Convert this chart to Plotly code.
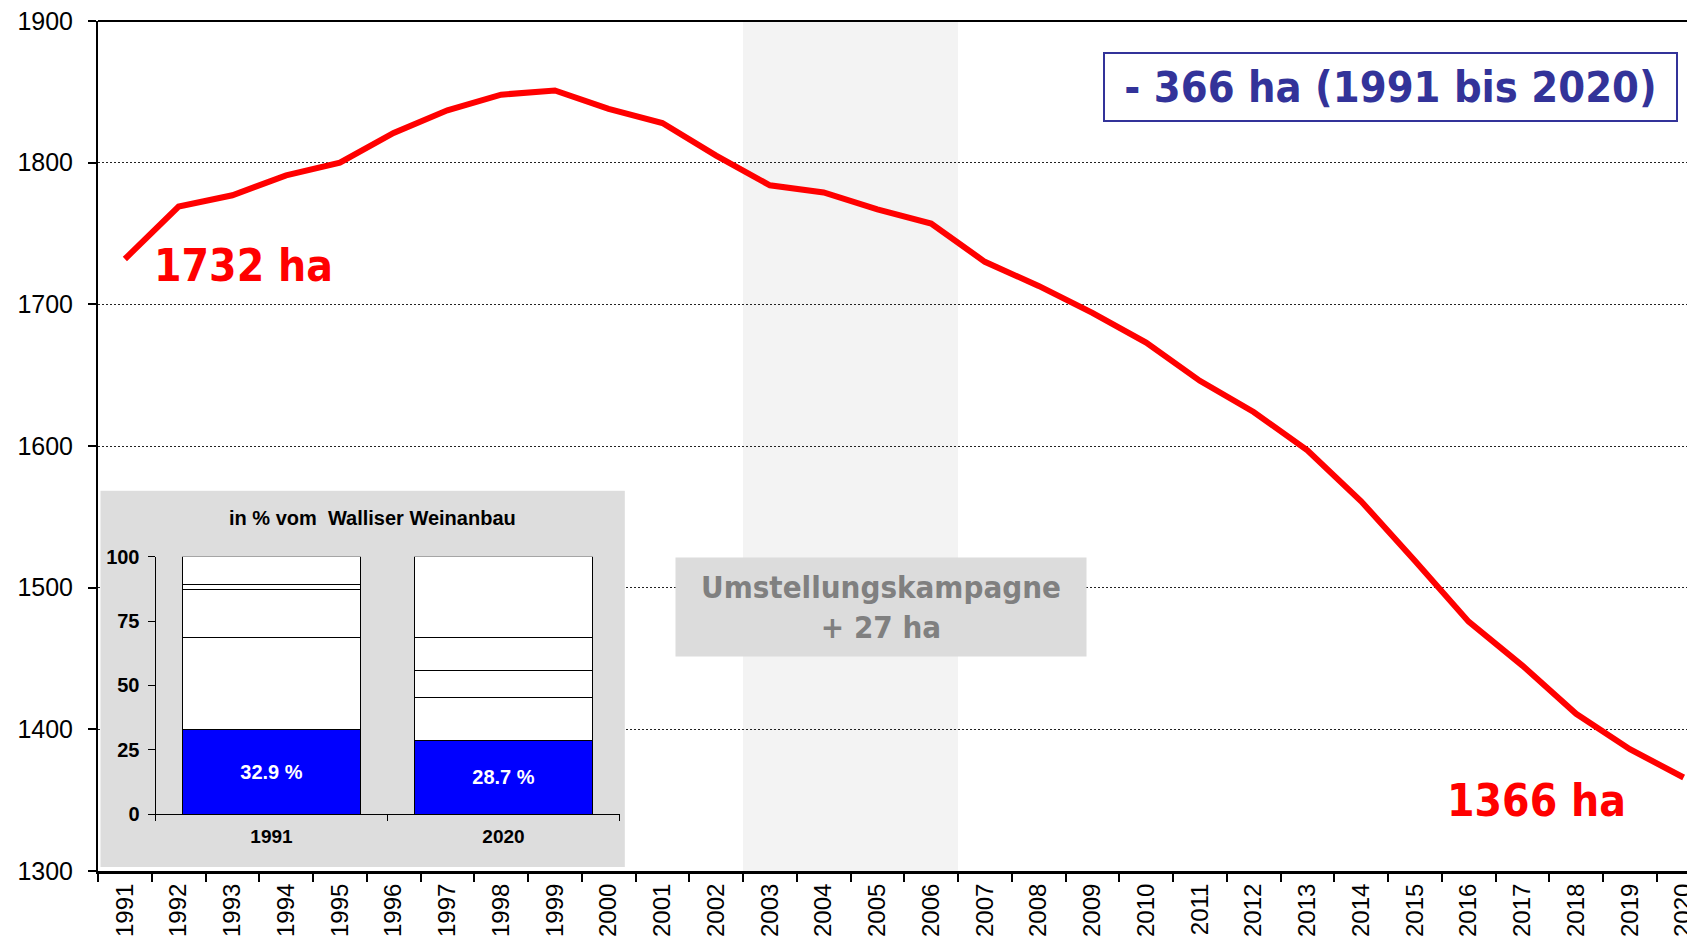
import plotly.graph_objects as go

# ---------------- data ----------------
years = [str(y) for y in range(1991, 2021)]
area_ha = [1732, 1769, 1777, 1791, 1800, 1821, 1837, 1848, 1851, 1838,
           1828, 1805, 1784, 1779, 1767, 1757, 1730, 1713, 1694, 1673,
           1646, 1624, 1597, 1561, 1519, 1476, 1445, 1411, 1386, 1366]
y_ticks = [1300, 1400, 1500, 1600, 1700, 1800, 1900]

campaign_years = ["2003", "2006"]
campaign_gain = 27

inset_years = ["1991", "2020"]
share_blue = [32.9, 28.7]
seg2 = [35.7, 16.7]
seg3 = [18.6, 10.5]
seg4 = [2.1, 12.8]
seg5 = [10.7, 31.3]
inset_ticks = [0, 25, 50, 75, 100]

# ---------------- geometry helpers ----------------
OFF = 8  # default body margin of the html page
W, H = 1695 - OFF, 946 - OFF
ML, MR, MT, MB = 90, 0, 13, 75
PW, PH = W - ML - MR, H - MT - MB


def px_x(px):  # page pixel -> paper fraction
    return (px - OFF - ML) / PW


def px_y(py):
    return (H - MB - (py - OFF)) / PH


YEAR_PX = 53.75
x_right = -0.5 + PW / YEAR_PX

FONT = "Liberation Sans, Arial, sans-serif"
BIGFONT = "DejaVu Sans Condensed, DejaVu Sans, sans-serif"

fig = go.Figure()

# main line
fig.add_trace(go.Scatter(
    x=years, y=area_ha, mode="lines",
    line=dict(color="#ff0000", width=6),
    xaxis="x", yaxis="y", showlegend=False, hoverinfo="skip"))

# dummy trace to create the inset background subplot
fig.add_trace(go.Scatter(x=[None], y=[None], xaxis="x2", yaxis="y2",
                         showlegend=False, hoverinfo="skip"))

# inset stacked bars
segments = [share_blue, seg2, seg3, seg4, seg5]
colors = ["#0000ff", "#ffffff", "#ffffff", "#ffffff", "#ffffff"]
for i, seg in enumerate(segments):
    kw = {}
    if i == 0:
        kw = dict(text=[f"{v} %" for v in seg], textposition="inside",
                  insidetextanchor="middle", textangle=0,
                  textfont=dict(color="white", size=20, family=FONT, weight="bold"))
    fig.add_trace(go.Bar(
        x=inset_years, y=seg, xaxis="x3", yaxis="y3", width=0.77,
        marker=dict(color=colors[i], line=dict(color="black", width=1)),
        showlegend=False, hoverinfo="skip", **kw))

band_x0 = years.index(campaign_years[0]) - 0.5
band_x1 = years.index(campaign_years[1]) + 0.5

shapes = [
    dict(type="rect", xref="paper", yref="paper", x0=0, x1=1, y0=0, y1=1,
         fillcolor="white", line=dict(width=0), layer="below"),
    dict(type="rect", xref="x", yref="y", x0=band_x0, x1=band_x1,
         y0=y_ticks[0], y1=y_ticks[-1], fillcolor="#f3f3f3",
         line=dict(width=0), layer="below"),
    dict(type="line", xref="paper", yref="paper", x0=0, x1=1, y0=1, y1=1,
         line=dict(color="black", width=2), layer="above"),
]

A = dict(xref="paper", yref="paper", showarrow=False,
         xanchor="center", yanchor="middle")
annotations = [
    dict(A, x=px_x(243), y=px_y(265),
         text=f"{area_ha[0]} ha",
         font=dict(family=BIGFONT, size=44, color="#ff0000", weight="bold")),
    dict(A, x=px_x(1536), y=px_y(800),
         text=f"{area_ha[-1]} ha",
         font=dict(family=BIGFONT, size=44, color="#ff0000", weight="bold")),
    dict(A, x=px_x(1390), y=px_y(87),
         text=f"- {area_ha[0] - area_ha[-1]} ha ({years[0]} bis {years[-1]})",
         width=567, height=62, borderpad=2, borderwidth=2,
         bordercolor="#333399", bgcolor="white",
         font=dict(family=BIGFONT, size=43, color="#333399", weight="bold")),
    dict(A, x=px_x(880.5), y=px_y(607),
         text=f"Umstellungskampagne<br>+ {campaign_gain} ha",
         width=406, height=94, borderpad=2, bgcolor="#dcdcdc",
         font=dict(family=BIGFONT, size=31, color="#808080", weight="bold")),
    dict(A, x=px_x(372), y=px_y(518),
         text="in % vom  Walliser Weinanbau",
         font=dict(family=FONT, size=20, color="black", weight="bold")),
]

fig.update_layout(
    width=W, height=H,
    margin=dict(l=ML, r=MR, t=MT, b=MB, pad=0),
    paper_bgcolor="white", plot_bgcolor="#dddddd",
    barmode="stack",
    showlegend=False,
    shapes=shapes, annotations=annotations,
    xaxis=dict(
        domain=[0, 1], anchor="y", type="category",
        categoryorder="array", categoryarray=years,
        range=[-0.5, x_right], tickson="boundaries",
        ticks="outside", ticklen=8, tickwidth=1.5, tickcolor="black",
        tickangle=-90, tickfont=dict(family=FONT, size=24, color="black"),
        ticklabeloverflow="allow",
        showline=True, linecolor="black", linewidth=3,
        showgrid=False, zeroline=False, fixedrange=True),
    yaxis=dict(
        domain=[0, 1], anchor="x", range=[y_ticks[0], y_ticks[-1]],
        tickvals=y_ticks, ticks="outside", ticklen=8, tickwidth=1.5,
        tickcolor="black", ticklabelstandoff=10, ticklabeloverflow="allow",
        tickfont=dict(family=FONT, size=25, color="black"),
        showline=True, linecolor="black", linewidth=2,
        showgrid=True, gridcolor="#222222", gridwidth=1, griddash="2px,2px",
        zeroline=False, fixedrange=True),
    xaxis2=dict(domain=[px_x(100.5), px_x(624.8)], anchor="y2",
                range=[0, 1], visible=False, fixedrange=True),
    yaxis2=dict(domain=[px_y(867), px_y(490.8)], anchor="x2",
                range=[0, 1], visible=False, fixedrange=True),
    xaxis3=dict(
        domain=[px_x(155.5), px_x(619.5)], anchor="y3", type="category",
        categoryorder="array", categoryarray=inset_years,
        tickson="boundaries", ticks="outside", ticklen=6, tickcolor="black",
        ticklabelstandoff=5,
        tickfont=dict(family=FONT, size=19, color="black", weight="bold"),
        showline=True, linecolor="black", linewidth=1,
        showgrid=False, zeroline=False, fixedrange=True),
    yaxis3=dict(
        domain=[px_y(814), px_y(556.7)], anchor="x3", range=[0, 100],
        tickvals=inset_ticks, ticks="outside", ticklen=7, tickcolor="black",
        ticklabelstandoff=4,
        tickfont=dict(family=FONT, size=20, color="black", weight="bold"),
        showline=True, linecolor="black", linewidth=1,
        showgrid=False, zeroline=False, fixedrange=True),
)

fig.write_html("out.html", config={"displayModeBar": False})
